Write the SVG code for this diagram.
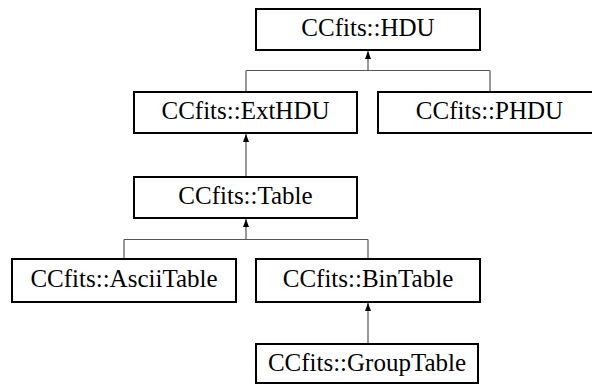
<svg xmlns="http://www.w3.org/2000/svg" width="592" height="385" viewBox="0 0 592 385">
<defs>
<style>
.box{fill:#fff;stroke:#000;stroke-width:2}
.lbl{font-family:"Liberation Serif","Times New Roman",Times,"DejaVu Serif",serif;font-size:25px;fill:#000;text-anchor:middle}
.edge{fill:none;stroke:#555;stroke-width:1.2}
</style>
</defs>
<rect width="592" height="385" fill="#fff"/>
<g id="connectors">
<path class="edge" d="M368,51 V70.5 M246,70.5 H490 M246,70.5 V91 M490,70.5 V92" />
<path d="M365,59 L368,51 L371,59 Z" fill="#000"/>
<path class="edge" d="M246,134 V177"/>
<path d="M243,142 L246,134 L249,142 Z" fill="#000"/>
<path class="edge" d="M246,219 V239.5 M124,239.5 H368 M124,239.5 V259 M368,239.5 V259"/>
<path d="M243,227 L246,219 L249,227 Z" fill="#000"/>
<path class="edge" d="M368,303 V344"/>
<path d="M365,311 L368,303 L371,311 Z" fill="#000"/>
</g>
<g id="hdu"><rect class="box" x="256" y="9" width="224" height="41"/><text class="lbl" x="368" y="36">CCfits::HDU</text></g>
<g id="exthdu"><rect class="box" x="134" y="92" width="223" height="41"/><text class="lbl" x="245.5" y="119">CCfits::ExtHDU</text></g>
<g id="phdu"><rect class="box" x="378" y="92" width="223" height="41"/><text class="lbl" x="489.5" y="119">CCfits::PHDU</text></g>
<g id="table"><rect class="box" x="134" y="177" width="223" height="41"/><text class="lbl" x="245.5" y="204">CCfits::Table</text></g>
<g id="asciitable"><rect class="box" x="12" y="259" width="224" height="43"/><text class="lbl" x="124" y="287">CCfits::AsciiTable</text></g>
<g id="bintable"><rect class="box" x="256" y="259" width="224" height="43"/><text class="lbl" x="368" y="287">CCfits::BinTable</text></g>
<g id="grouptable"><rect class="box" x="256" y="344" width="222" height="39"/><text class="lbl" x="367" y="371">CCfits::GroupTable</text></g>
</svg>
